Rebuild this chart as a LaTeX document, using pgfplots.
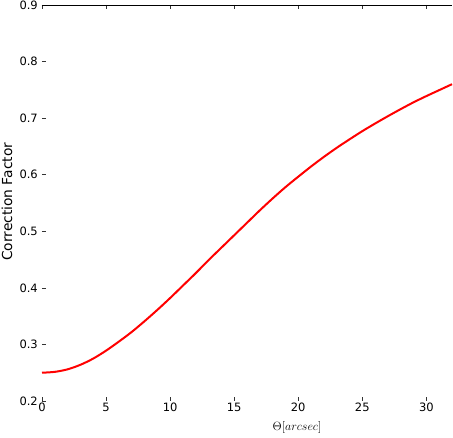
\documentclass[border=0pt]{standalone}
\usepackage{fontspec}
\setmainfont{DejaVu Sans}
\usepackage{pgfplots}
\pgfplotsset{compat=1.18}
\begin{document}
\begin{tikzpicture}
\begin{axis}[
  scale only axis,
  width=410pt, height=396pt,
  xmin=0, xmax=32, ymin=0.2, ymax=0.9,
  xtick={0,5,10,15,20,25,30},
  ytick={0.2,0.3,0.4,0.5,0.6,0.7,0.8,0.9},
  yticklabels={0.2,0.3,0.4,0.5,0.6,0.7,0.8,0.9},
  /pgf/number format/assume math mode=true,
  tick align=inside,
  major tick length=4pt,
  tick style={black!80, line width=0.5pt},
  ytick pos=left,
  xtick pos=both,
  axis line style={draw=none},
  tick label style={font=\fontsize{11.5}{13}\selectfont},
  xticklabel style={inner sep=1pt, yshift=-1pt},
  yticklabel style={inner sep=2pt, xshift=-2pt},
  xlabel={$\Theta[arcsec]$},
  xlabel style={at={(axis description cs:0.622,0)}, anchor=center, yshift=-27pt, font=\fontsize{13}{15}\selectfont},
  ylabel={Correction Factor},
  ylabel style={at={(axis description cs:-0.0854,0.503)}, anchor=center, font=\fontsize{13.8}{15}\selectfont},
  clip=false,
]
\addplot[red, line width=2pt, smooth] coordinates {
(0,0.250) (1,0.2515) (2,0.256) (3,0.264) (4,0.275) (5,0.289) (6,0.305)
(7,0.322) (8,0.341) (9,0.361) (10,0.382) (11,0.404) (12,0.426) (13,0.449)
(14,0.471) (15,0.493) (16,0.515) (17,0.537) (18,0.558) (19,0.578) (20,0.5965)
(21,0.6145) (22,0.6315) (23,0.6475) (24,0.6625) (25,0.677) (26,0.6905) (27,0.7035)
(28,0.716) (29,0.728) (30,0.739) (31,0.7495) (32,0.760)
};
\draw[black, line width=0.8pt] (rel axis cs:0,1) -- (rel axis cs:1,1);
\end{axis}
\pgfresetboundingbox
\path[use as bounding box] (-42pt,-37pt) rectangle (411pt,401pt);
\end{tikzpicture}
\end{document}
